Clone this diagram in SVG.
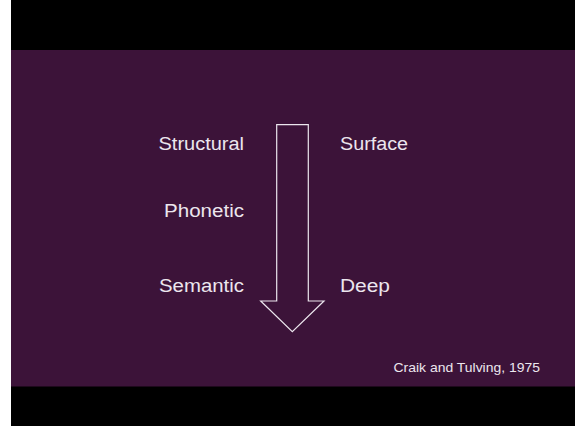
<svg xmlns="http://www.w3.org/2000/svg" width="579" height="426" viewBox="0 0 579 426">
<style>
.lbl{font-family:"Century Gothic","URW Gothic","Liberation Sans",sans-serif;font-size:18px;fill:#ECE6EE}
.cite{font-family:"Liberation Sans",Arial,sans-serif;font-size:13px;fill:#ECE6EE}
</style>
<rect x="0" y="0" width="579" height="426" fill="#ffffff"/>
<rect x="11" y="0" width="564" height="426" fill="#000000"/>
<rect x="11" y="50" width="564" height="336.5" fill="#3C1339"/>
<g id="connectors">
<path id="arrow" d="M276.7,124.7 H308.3 V301 H324 L292.3,331.7 L260.7,301 H276.7 Z" fill="none" stroke="#ECE6EE" stroke-width="1.2"/>
</g>
<g id="structural"><text class="lbl" x="244" y="150" text-anchor="end" textLength="85.5" lengthAdjust="spacingAndGlyphs">Structural</text></g>
<g id="phonetic"><text class="lbl" x="244" y="216.7" text-anchor="end" textLength="80" lengthAdjust="spacingAndGlyphs">Phonetic</text></g>
<g id="semantic"><text class="lbl" x="244" y="291.5" text-anchor="end" textLength="85" lengthAdjust="spacingAndGlyphs">Semantic</text></g>
<g id="surface"><text class="lbl" x="340" y="150" textLength="68" lengthAdjust="spacingAndGlyphs">Surface</text></g>
<g id="deep"><text class="lbl" x="340" y="291.5" textLength="50" lengthAdjust="spacingAndGlyphs">Deep</text></g>
<g id="citation"><text class="cite" x="393.5" y="371.5" textLength="146.5" lengthAdjust="spacingAndGlyphs">Craik and Tulving, 1975</text></g>
</svg>
